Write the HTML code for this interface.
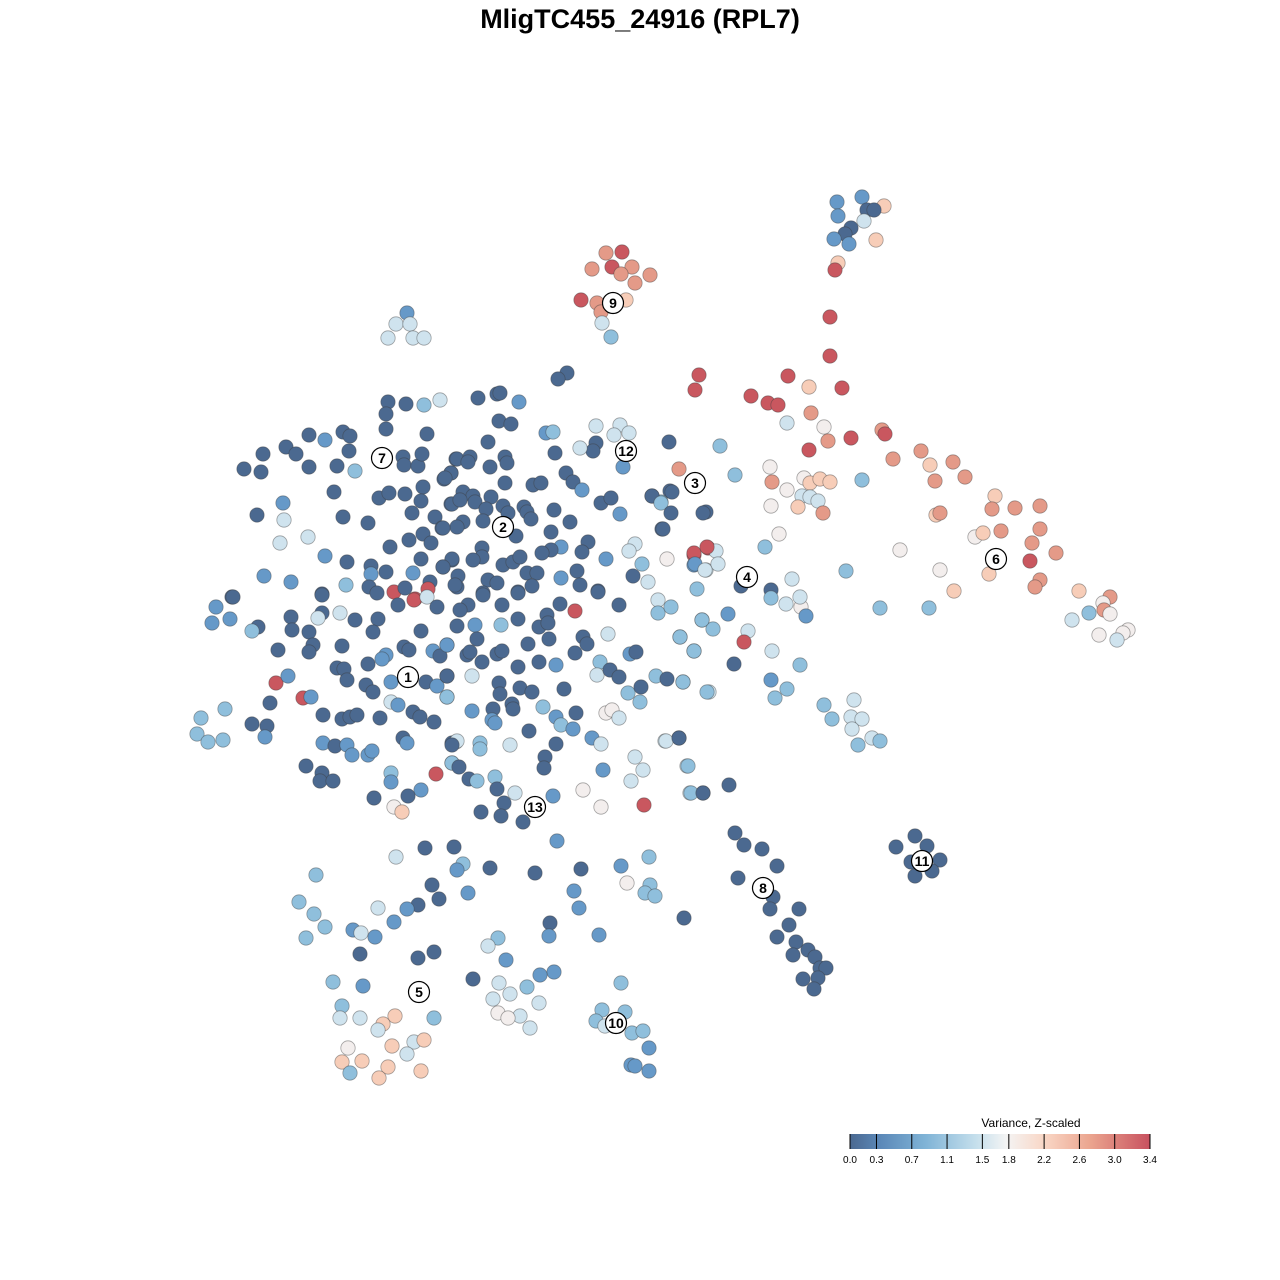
<!DOCTYPE html>
<html><head><meta charset="utf-8"><style>
body{margin:0;background:#fff;width:1280px;height:1280px;overflow:hidden;font-family:"Liberation Sans",sans-serif}
svg{position:absolute;left:0;top:0}
</style></head><body>
<svg id="s" width="1280" height="1280" xmlns="http://www.w3.org/2000/svg">
<defs><linearGradient id="g" x1="0" x2="1" y1="0" y2="0">
<stop offset="0" stop-color="#4a6890"/><stop offset="0.1" stop-color="#5b88b8"/><stop offset="0.25" stop-color="#7fb3d6"/><stop offset="0.42" stop-color="#c5dfec"/><stop offset="0.52" stop-color="#f4f4f4"/><stop offset="0.65" stop-color="#f9d6c5"/><stop offset="0.8" stop-color="#eba58f"/><stop offset="1" stop-color="#c8515f"/></linearGradient></defs>
<text x="640" y="28" text-anchor="middle" font-size="27" font-weight="bold" fill="#000">MligTC455_24916 (RPL7)</text>
<g id="pts"></g><g id="lab"></g>
<text x="1031" y="1127" text-anchor="middle" font-size="12" fill="#000">Variance, Z-scaled</text>
<rect x="850" y="1134" width="300" height="15" fill="url(#g)"/>
<g id="leg"></g>
</svg>
<script>
var C={d:"#4b6990",m:"#6699c8",l:"#8fbfdc",p:"#cfe3ee",w:"#f3eeed",s:"#f7cdb8",o:"#e49a88",r:"#c9575f"};
var D="862,197m 837,202m 884,206s 867,210d 874,210d 838,216m 864,221p 851,228d 845,234d 834,239m 849,244m 876,240s 838,263s 835,270r \
606,253o 622,252r 592,269o 612,267r 632,267o 621,274o 650,275o 635,283o 581,300r 597,303o 626,300s 601,312o 602,323p 611,337l \
407,313m 396,324p 410,324p 388,338p 413,338p 424,338p \
830,317r 830,356r 699,375r 695,390r 788,376r 842,388r 809,387s 751,396r 768,403r 778,405r 811,413o 787,423p 824,427w 828,441o 851,438r 809,450r 882,430o 885,434r 893,459o 921,451o 930,465s 953,462o 965,477o 935,481o 862,480l 770,467w 772,482o 787,490w 804,478w 810,483s 820,479s 830,482s 802,496p 810,497p 818,501p 771,506w 798,507s 823,513o 779,534w 936,515s 940,513o 995,496s 992,509o 1015,508o 1040,506o 975,537w 983,533s 1001,531o 1040,529o 1032,543o 1056,553o 900,550w 1030,561r 989,574s 1040,580o 1035,587o 940,570w 954,591s 1079,591s 1110,597o 1103,603w 1104,610o 1089,613l 1110,614w 1072,620p 1128,630w 1123,633w 1099,635w 1117,640p \
669,442d 720,446l 735,475l 679,469o 706,512d 670,491d 661,502l 652,496d 662,529d 694,555r 708,548r 716,551p 694,565m 706,570p 718,564p 765,547l 741,586d 771,590d 771,598l 792,579p 786,604p 801,607w 806,616m 800,597p 846,571l 880,608l 929,608l 748,631p 744,642r 772,651p 800,665l 734,664d 771,680m 787,689l 775,698l 824,705l 854,700p 832,719l 851,717p 862,719p 852,729p 872,738p 858,745l 880,741l 729,785d 703,793d 690,793p 728,614m 702,620l 713,629l 680,637l 694,651l 709,692p 683,682l 687,766p 679,738d 665,741p \
735,833d 744,845d 762,849d 777,866d 738,878d 773,897d 770,909d 799,909d 789,925d 777,937d 796,942d 793,955d 808,950d 815,957d 820,968d 826,968d 818,978d 803,979d 814,989d \
915,836d 896,847d 927,846d 940,860d 911,862d 932,871d 915,876d \
396,857p 425,848d 454,847d 463,864l 457,870m 490,868d 535,873d 581,869d 557,841m 621,866m 649,857l 627,883w 650,885l 645,893l 655,896l 574,891m 579,908m 432,885d 439,899d 418,905d 468,893m 316,875l 299,902l 314,914l 325,927l 306,938l 353,930m 361,933p 375,937m 378,908p 394,922m 407,909m 434,952d 418,958d 360,954d 473,979d 498,938l 488,946p 506,960m 550,923d 549,936m 599,935m 684,918d 554,972m 540,975m 527,987l 499,983p 510,994p 493,999p 539,1003p 520,1016p 530,1028p 498,1013w 508,1018w 333,982l 363,986m 342,1006l 340,1018p 360,1018p 395,1016s 383,1024s 378,1030p 434,1018l 414,1042p 392,1046s 424,1040s 407,1054p 348,1048w 342,1062s 362,1061s 388,1067s 350,1073l 379,1078s 421,1071s 621,983l 602,1010l 625,1012l 596,1021l 605,1026p 632,1033l 643,1031l 649,1048m 631,1065m 635,1066m 649,1071m \
388,402d 406,404d 424,405l 440,400p 386,414d 386,429d 427,434d 309,435d 325,440m 343,432d 350,436d 286,447d 263,454d 296,454d 349,451d 244,469d 261,472d 309,467d 337,466d 355,471l 403,457d 404,465d 418,466d 422,454d 456,459d 451,473d 444,479d 334,492d 379,498d 389,493d 405,494d 423,487d 421,501d 451,504d 283,503m 284,520p 257,515d 343,517d 368,523d 412,513d 435,517d 442,528d 280,543p 308,537p 390,547d 409,540d 423,534d 431,543d 325,556m 347,562d 421,559d 264,576m 291,582m 346,585l 371,566d 371,574m 386,572d 413,573m 443,567d 452,560d 369,587d 377,593d 415,599r 430,582d 322,594d 232,597d 457,587d 394,592r 405,588d 428,589r \
567,373d 558,379d 478,398d 497,394d 500,393d 519,402m 499,421d 511,424d 546,433m 553,432l 596,426p 620,425p 614,435p 629,433p 596,443d 593,451d 580,448p 623,467m 488,442d 555,453d 457,459d 470,457d 468,462d 490,467d 505,457d 507,463d 505,483d 451,473d 445,478d 533,485d 541,483d 566,473d 573,482d 582,490m 463,492d 473,496d 491,497d 452,504d 460,500d 475,502d 486,509d 503,506d 508,513d 524,507d 527,512d 531,519d 554,510d 570,522d 601,503d 611,498d 620,514m 652,496d 661,503l 672,492d 671,513d 663,529d 703,513d 463,522d 457,527d 443,528d 483,521d 516,536d 551,532d 588,542d 582,552d 561,547m 551,550d 542,553d 635,544p 629,551p 642,564l 648,582p 606,559m 633,576d 667,559w 694,553r 707,547r 695,564m 705,570p 697,589l 482,548d 482,557d 473,560d 452,559d 443,567d 458,576d 455,585d 488,580d 497,583d 483,593d 503,565d 513,562d 520,557d 527,573d 537,573d 532,586d 518,592d 561,578m 577,571d 580,585d 598,591d \
233,597d 216,607m 212,623m 230,619m 258,627d 252,631l 291,617d 292,630d 322,595d 322,613d 318,618p 340,613p 309,632d 313,645d 309,652d 278,650d 355,620d 378,619d 373,632d 398,605d 414,600r 427,597p 437,607d 421,631d 342,646d 337,668d 344,669d 347,680d 368,664d 386,655m 382,659m 404,647d 409,650d 433,651m 447,645m 440,656d 366,685d 373,692d 391,682m 426,682d 437,686m 447,697l 447,676d 391,702p 398,705m 276,683r 288,676m 270,703d 303,698r 311,697m 225,709l 201,718l 197,734l 208,742l 223,740l 252,724d 267,726d 265,737m 323,715d 342,719d 350,717d 357,715d 380,718d 413,712d 420,717d 434,722d 403,738d 407,743m 323,743m 335,746d 347,745m 352,755m 368,755m 372,751m 306,766d 322,773d 320,781d 333,781d 391,773l 391,782m 436,774r 452,743d 456,742p 452,763m 421,790m 408,796d 374,798d 394,807w 402,812s \
483,595d 518,593d 598,592d 468,605d 460,610d 502,605d 560,604d 575,611r 619,605d 658,600p 658,613l 671,607l 457,626d 475,625m 501,625l 518,619d 547,615d 539,627d 548,623d 477,639d 447,645m 528,644d 549,639d 583,637d 587,644d 608,634p 680,637l 702,620l 694,651l 467,655d 470,652d 482,662d 497,654d 502,651d 518,667d 539,662d 556,665m 575,653d 600,662l 597,675p 610,670d 619,677d 630,654m 636,652d 656,676l 667,679d 683,682l 707,692l 447,676d 447,697l 472,676p 499,683d 500,694d 520,688d 532,692d 564,689d 628,693l 641,687d 640,702l 472,711m 493,709d 492,720m 495,723m 512,704d 513,709d 543,707l 556,717m 561,725l 573,729m 576,713d 606,713w 612,710w 619,718p 529,731d 592,738m 601,744p 666,741p 679,738d 457,741p 452,745d 480,743l 480,749l 510,745p 556,744d 452,763l 459,767d 469,779d 477,781l 495,777l 497,789d 545,757d 544,768d 603,770m 635,757p 643,770p 631,781p 688,766l 691,793l 703,793d 583,790w 601,807w 644,805r 515,793p 553,796m 504,803d 481,812d 501,816d 523,822d";
var g=document.getElementById("pts"),h="";
D.split(/\s+/).forEach(function(t){if(!t)return;var c=t.slice(-1),xy=t.slice(0,-1).split(",");
h+='<circle cx="'+xy[0]+'" cy="'+xy[1]+'" r="7.2" fill="'+C[c]+'" stroke="rgba(60,60,60,0.45)" stroke-width="0.8"/>';});
g.innerHTML=h;
var L=[["7",382,458],["12",626,451],["3",695,483],["2",503,527],["4",747,577],["6",996,559],["9",613,303],["1",408,677],["13",535,807],["5",419,992],["10",616,1023],["8",763,888],["11",922,861]],lh="";
L.forEach(function(a){lh+='<circle cx="'+a[1]+'" cy="'+a[2]+'" r="10.5" fill="#fff" stroke="#000" stroke-width="1.2"/><text x="'+a[1]+'" y="'+(a[2]+5)+'" text-anchor="middle" font-size="14" font-weight="bold" fill="#000">'+a[0]+'</text>';});
document.getElementById("lab").innerHTML=lh;
var V=[0,0.3,0.7,1.1,1.5,1.8,2.2,2.6,3.0,3.4],vh="";
V.forEach(function(v){var x=850+v/3.4*300;vh+='<line x1="'+x+'" x2="'+x+'" y1="1134" y2="1149" stroke="#000" stroke-width="1"/><text x="'+x+'" y="1163" text-anchor="middle" font-size="10" fill="#000">'+v.toFixed(1)+'</text>';});
document.getElementById("leg").innerHTML=vh;
</script>
</body></html>
